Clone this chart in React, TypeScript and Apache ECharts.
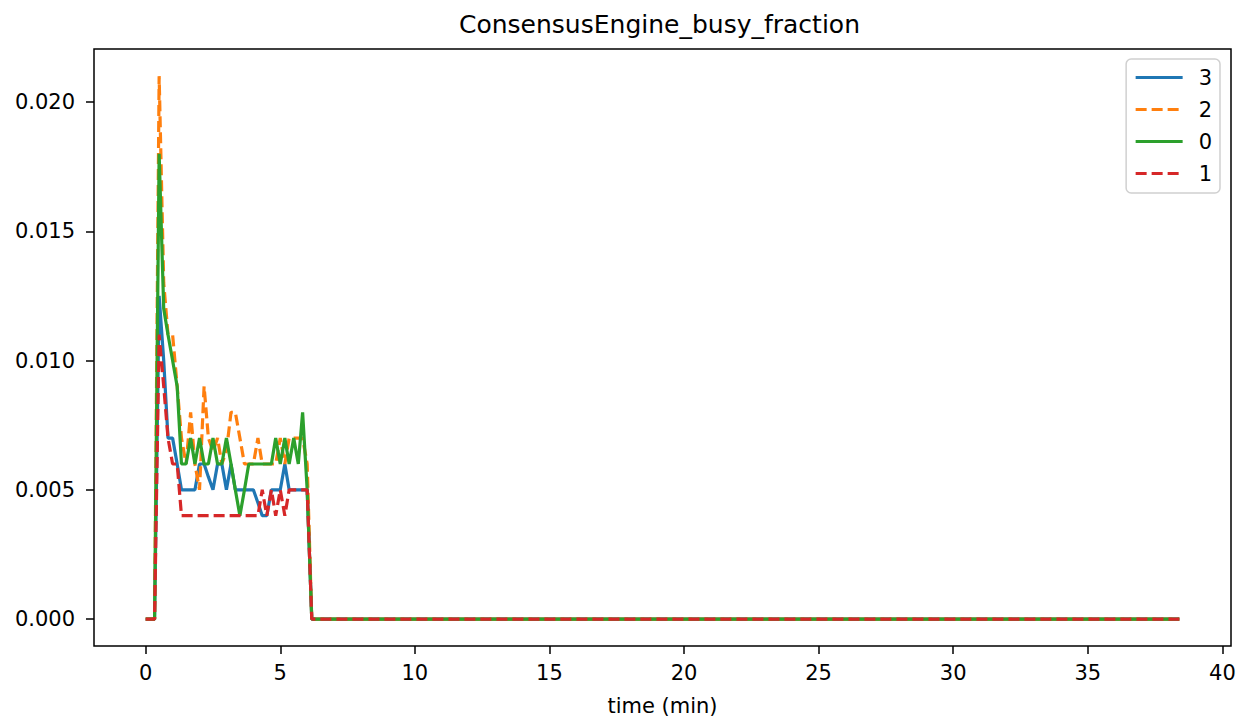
import React, { useEffect, useRef } from "react";
import * as echarts from "echarts";

const TIMES = [
  0, 0.17, 0.33, 0.5, 0.67, 0.83, 1.0, 1.17, 1.33, 1.5, 1.67, 1.83, 2.0, 2.17, 2.33, 2.5,
  2.67, 2.83, 3.0, 3.17, 3.33, 3.5, 3.67, 3.83, 4.0, 4.17, 4.33, 4.5, 4.67, 4.83, 5.0,
  5.17, 5.33, 5.5, 5.67, 5.83, 6.0, 6.17, 38.4,
];

const S3 = [
  0, 0, 0, 0.0125, 0.01, 0.007, 0.007, 0.006, 0.005, 0.005, 0.005, 0.005, 0.006, 0.006,
  0.0055, 0.005, 0.006, 0.006, 0.005, 0.006, 0.005, 0.005, 0.005, 0.005, 0.005, 0.0045,
  0.004, 0.004, 0.005, 0.005, 0.005, 0.006, 0.005, 0.005, 0.005, 0.005, 0.005, 0, 0,
];

const S2 = [
  0, 0, 0, 0.021, 0.013, 0.011, 0.011, 0.009, 0.007, 0.006, 0.008, 0.006, 0.005, 0.009,
  0.007, 0.0065, 0.007, 0.006, 0.0065, 0.008, 0.008, 0.007, 0.006, 0.006, 0.006, 0.007,
  0.006, 0.006, 0.006, 0.006, 0.007, 0.006, 0.007, 0.007, 0.007, 0.007, 0.006, 0, 0,
];

const S0 = [
  0, 0, 0, 0.018, 0.012, 0.011, 0.01, 0.009, 0.006, 0.006, 0.007, 0.006, 0.007, 0.006,
  0.006, 0.007, 0.006, 0.006, 0.007, 0.006, 0.005, 0.004, 0.005, 0.006, 0.006, 0.006,
  0.006, 0.006, 0.006, 0.007, 0.006, 0.007, 0.006, 0.007, 0.006, 0.008, 0.005, 0, 0,
];

const S1 = [
  0, 0, 0, 0.011, 0.009, 0.007, 0.006, 0.006, 0.004, 0.004, 0.004, 0.004, 0.004, 0.004,
  0.004, 0.004, 0.004, 0.004, 0.004, 0.004, 0.004, 0.004, 0.004, 0.004, 0.004, 0.004,
  0.005, 0.004, 0.005, 0.004, 0.005, 0.004, 0.005, 0.005, 0.005, 0.005, 0.005, 0, 0,
];

const SERIES = [
  { name: "3", values: S3, color: "#1f77b4", dashed: false },
  { name: "2", values: S2, color: "#ff7f0e", dashed: true },
  { name: "0", values: S0, color: "#2ca02c", dashed: false },
  { name: "1", values: S1, color: "#d62728", dashed: true },
];

const X_TICKS = [0, 5, 10, 15, 20, 25, 30, 35, 40];
const Y_TICKS = [0, 0.005, 0.01, 0.015, 0.02];

const FONT = "DejaVu Sans";

export default function App() {
  const ref = useRef<HTMLDivElement>(null);
  useEffect(() => {
    document.body.style.margin = "0";
    const chart = echarts.init(ref.current!, null, { renderer: "svg" });
    chart.setOption({
      animation: false,
      backgroundColor: "#fff",
      textStyle: { fontFamily: FONT },
      title: {
        text: "ConsensusEngine_busy_fraction",
        left: 459,
        top: 12,
        padding: 0,
        textStyle: { fontFamily: FONT, fontSize: 25, fontWeight: "normal", color: "#000" },
      },
      grid: {
        left: 94,
        right: 8,
        top: 49,
        bottom: 74,
        show: true,
        borderColor: "#000",
        borderWidth: 1.5,
        backgroundColor: "transparent",
      },
      legend: {
        orient: "vertical",
        right: 19,
        top: 59,
        itemWidth: 47,
        itemHeight: 14,
        itemGap: 11,
        padding: [8, 8, 9, 8],
        borderColor: "#d0d0d0",
        borderWidth: 1.5,
        borderRadius: 5,
        itemStyle: { opacity: 0 },
        lineStyle: { width: 3 },
        textStyle: { fontFamily: FONT, fontSize: 21, color: "#000", padding: [0, 0, 0, 11] },
        data: SERIES.map((s) => s.name),
      },
      xAxis: {
        type: "value",
        min: -1.92,
        max: 40.32,
        name: "time (min)",
        nameLocation: "middle",
        nameGap: 49,
        nameTextStyle: { fontFamily: FONT, fontSize: 21, color: "#000" },
        axisLine: { show: false, onZero: false },
        splitLine: { show: false },
        axisTick: {
          show: true,
          inside: false,
          length: 8,
          lineStyle: { color: "#000", width: 1.5 },
          customValues: X_TICKS,
        },
        axisLabel: {
          color: "#000",
          fontSize: 21,
          fontFamily: FONT,
          margin: 16,
          customValues: X_TICKS,
          formatter: (v: number) => String(v),
        },
      },
      yAxis: {
        type: "value",
        min: -0.00104,
        max: 0.02205,
        axisLine: { show: false, onZero: false },
        splitLine: { show: false },
        axisTick: {
          show: true,
          inside: false,
          length: 8,
          lineStyle: { color: "#000", width: 1.5 },
          customValues: Y_TICKS,
        },
        axisLabel: {
          color: "#000",
          fontSize: 21,
          fontFamily: FONT,
          margin: 19,
          customValues: Y_TICKS,
          formatter: (v: number) => v.toFixed(3),
        },
      },
      series: SERIES.map((s) => ({
        name: s.name,
        type: "line",
        symbol: "none",
        showSymbol: false,
        color: s.color,
        lineStyle: {
          color: s.color,
          width: 3.2,
          type: s.dashed ? [11, 5] : "solid",
        },
        data: TIMES.map((t, i) => [t, s.values[i]]),
      })),
    });
    return () => chart.dispose();
  }, []);
  return <div ref={ref} style={{ width: 1239, height: 721 }} />;
}
